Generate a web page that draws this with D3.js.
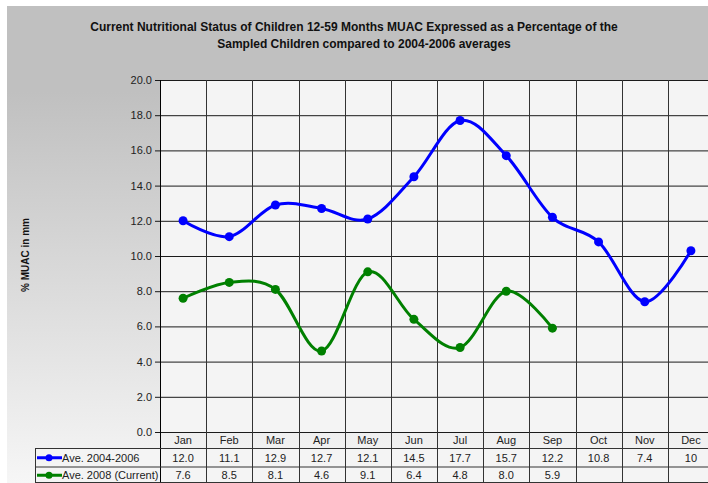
<!DOCTYPE html>
<html>
<head>
<meta charset="utf-8">
<script src="https://cdn.jsdelivr.net/npm/d3@7"></script>
<style>
  html, body { margin: 0; padding: 0; background: #fff; }
  svg { display: block; font-family: Arial, "Liberation Sans", sans-serif; }
</style>
</head>
<body>
<svg id="chart" width="708" height="483"></svg>
<script>
// Chart data.
var months = ['Jan', 'Feb', 'Mar', 'Apr', 'May', 'Jun', 'Jul', 'Aug', 'Sep',
              'Oct', 'Nov', 'Dec'];
var longTerm = [12.0, 11.1, 12.9, 12.7, 12.1, 14.5, 17.7, 15.7, 12.2, 10.8,
                7.4, 10.3];
var current = [7.6, 8.5, 8.1, 4.6, 9.1, 6.4, 4.8, 8.0, 5.9];
var longTermText = ['12.0', '11.1', '12.9', '12.7', '12.1', '14.5', '17.7',
                    '15.7', '12.2', '10.8', '7.4', '10'];
var currentText = ['7.6', '8.5', '8.1', '4.6', '9.1', '6.4', '4.8', '8.0',
                   '5.9'];
var yTicks = [0, 2, 4, 6, 8, 10, 12, 14, 16, 18, 20];
var seriesNames = ['Ave. 2004-2006', 'Ave. 2008 (Current)'];

var svg = d3.select('#chart');

// Background gradient.
var grad = svg.append('defs').append('linearGradient').
    attr('id', 'bg').attr('x1', 0).attr('y1', 0).attr('x2', 0).attr('y2', 1);
grad.append('stop').attr('offset', '0%').attr('stop-color', '#c0c0c0');
grad.append('stop').attr('offset', '18%').attr('stop-color', '#c0c0c0');
grad.append('stop').attr('offset', '100%').attr('stop-color', '#f6f6f6');

svg.append('rect').attr('x', 7).attr('y', 6).attr('width', 701).
    attr('height', 477).attr('fill', 'url(#bg)');

var x = d3.scaleBand().domain(months).range([160, 714]).padding(0);
var y = d3.scaleLinear().domain([0, 20]).range([432, 80]);

var rowTop = 448, rowMid = 466.5, rowBottom = 483;

// Plot area.
svg.append('rect').attr('x', 160).attr('y', y(20)).
    attr('width', 554).attr('height', y(0) - y(20)).attr('fill', '#f4f4f4');

// Table background.
svg.append('rect').attr('x', 35).attr('y', rowTop).
    attr('width', 679).attr('height', rowBottom - rowTop).attr('fill', '#f4f4f4');

// Horizontal grid and ticks.
svg.append('g').selectAll('line').data(yTicks).join('line').
    attr('x1', 155).attr('x2', 714).
    attr('y1', function(d) { return y(d) + 0.5; }).
    attr('y2', function(d) { return y(d) + 0.5; }).
    attr('stroke', '#1a1a1a').attr('stroke-width', 1);

svg.append('g').selectAll('text').data(yTicks).join('text').
    attr('x', 152).attr('y', function(d) { return y(d) + 4; }).
    attr('text-anchor', 'end').attr('font-size', 11).attr('fill', '#222').
    text(function(d) { return d3.format('.1f')(d); });

// Vertical grid (runs through the data table).
var edges = months.map(function(m) { return x(m); });
svg.append('g').selectAll('line').data(edges).join('line').
    attr('x1', function(d) { return Math.round(d) + 0.5; }).
    attr('x2', function(d) { return Math.round(d) + 0.5; }).
    attr('y1', y(20)).attr('y2', rowBottom).
    attr('stroke', function(d, i) { return i == 0 ? '#000' : '#333'; }).
    attr('stroke-width', 1);

// Table rules.
[rowTop, rowMid].forEach(function(ry) {
  svg.append('line').attr('x1', 35).attr('x2', 714).
      attr('y1', ry + 0.5).attr('y2', ry + 0.5).
      attr('stroke', '#333');
});
svg.append('line').attr('x1', 35.5).attr('x2', 35.5).
    attr('y1', rowTop).attr('y2', rowBottom).attr('stroke', '#333');
svg.append('line').attr('x1', 35).attr('x2', 714).
    attr('y1', rowBottom - 0.5).attr('y2', rowBottom - 0.5).attr('stroke', '#333');

// Month labels.
svg.append('g').selectAll('text').data(months).join('text').
    attr('x', function(d) { return x(d) + x.bandwidth() / 2; }).
    attr('y', 444).attr('text-anchor', 'middle').attr('font-size', 11).
    attr('fill', '#222').text(function(d) { return d; });

// Series.
var series = [
  {name: seriesNames[0], values: longTerm, text: longTermText,
   color: '#0000ff', row: rowTop},
  {name: seriesNames[1], values: current, text: currentText,
   color: '#008000', row: rowMid}
];

var line = d3.line().
    x(function(d, i) { return x(months[i]) + x.bandwidth() / 2; }).
    y(function(d) { return y(d); }).
    curve(d3.curveCardinal.tension(0));

series.forEach(function(s) {
  svg.append('path').datum(s.values).attr('d', line).
      attr('fill', 'none').attr('stroke', s.color).attr('stroke-width', 3);

  svg.append('g').selectAll('circle').data(s.values).join('circle').
      attr('cx', function(d, i) { return x(months[i]) + x.bandwidth() / 2; }).
      attr('cy', function(d) { return y(d); }).
      attr('r', 4.5).attr('fill', s.color);

  // Legend key in the table.
  var cy = (s.row + (s.row == rowTop ? rowMid : rowBottom)) / 2 + 0.5;
  svg.append('line').attr('x1', 37).attr('x2', 62).
      attr('y1', cy).attr('y2', cy).
      attr('stroke', s.color).attr('stroke-width', 3);
  svg.append('circle').attr('cx', 49).attr('cy', cy).attr('r', 3.5).
      attr('fill', s.color);
  svg.append('text').attr('x', 62).attr('y', cy + 4).
      attr('font-size', 11).attr('fill', '#222').text(s.name);

  svg.append('g').selectAll('text').data(s.text).join('text').
      attr('x', function(d, i) { return x(months[i]) + x.bandwidth() / 2; }).
      attr('y', cy + 4).attr('text-anchor', 'middle').attr('font-size', 11).
      attr('fill', '#222').text(function(d) { return d; });
});

// Titles.
var title = svg.append('text').attr('text-anchor', 'middle').
    attr('font-size', 12).attr('font-weight', 'bold').attr('fill', '#111');
title.append('tspan').attr('x', 354).attr('y', 31).
    text('Current Nutritional Status of Children 12-59 Months MUAC ' +
         'Expressed as a Percentage of the');
title.append('tspan').attr('x', 364).attr('y', 48).
    text('Sampled Children compared to 2004-2006 averages');

svg.append('text').
    attr('transform', 'translate(29,255) rotate(-90)').
    attr('text-anchor', 'middle').attr('font-size', 10).
    attr('font-weight', 'bold').attr('fill', '#111').text('% MUAC in mm');
</script>
</body>
</html>
